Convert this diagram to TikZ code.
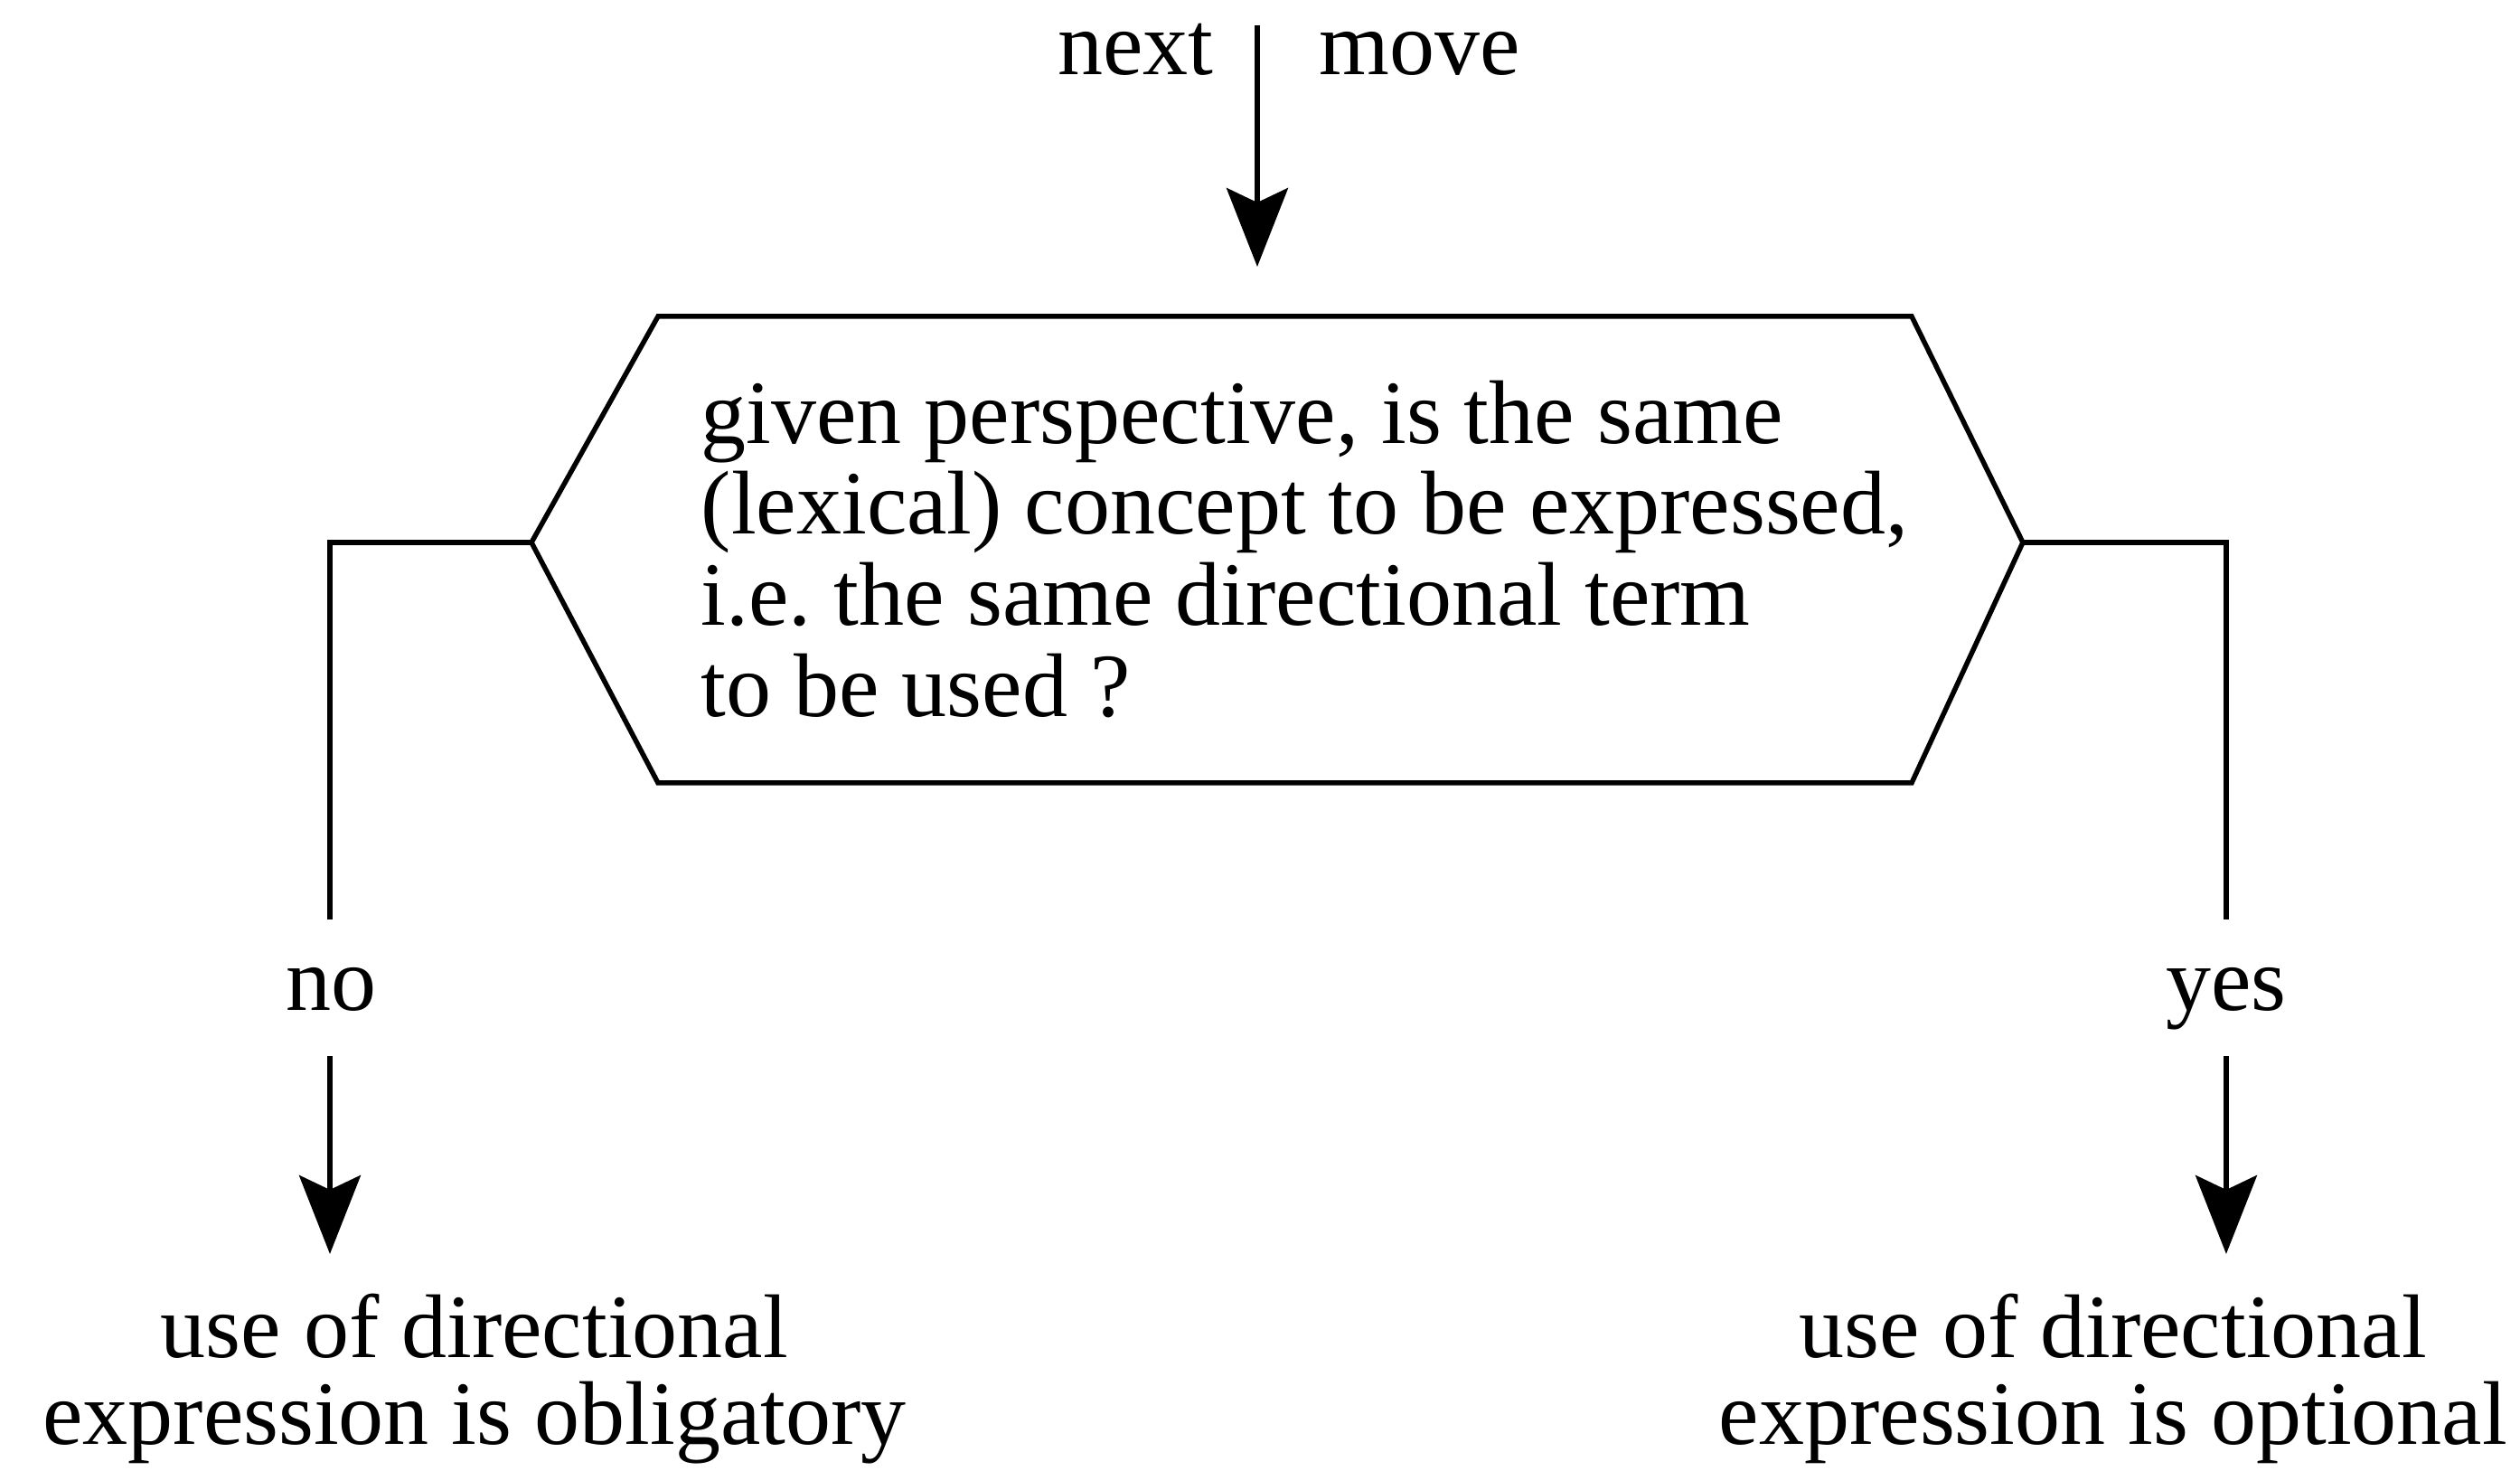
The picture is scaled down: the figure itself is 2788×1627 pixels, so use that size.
\documentclass[tikz,border=0pt]{standalone}
\usepackage{fontspec}
\setmainfont{Liberation Serif}
\usetikzlibrary{arrows.meta}
\begin{document}
\begin{tikzpicture}[x=0.1pt, y=-0.1pt, line width=0.55pt,
  flow/.style={-{Stealth[length=8.7pt,width=6.8pt,inset=1.6pt]}},
  lbl/.style={inner sep=0pt, font=\fontsize{10}{10.1}\selectfont},
  outcome/.style={lbl, align=center, font=\fontsize{10}{9.6}\selectfont}]
\useasboundingbox (0,0) rectangle (2788,1627);

% decision hexagon
\coordinate (L)  at (588,600);
\coordinate (TL) at (728,350);
\coordinate (TR) at (2115,350);
\coordinate (R)  at (2238,600);
\coordinate (BR) at (2115,866);
\coordinate (BL) at (728,866);
\draw (L) -- (TL) -- (TR) -- (R) -- (BR) -- (BL) -- cycle;
% base anchor of a multi-line node sits on its last line
\node[lbl, align=left, anchor=base west] (q) at (773,793)
  {given perspective, is the same\\(lexical) concept to be expressed,\\i.e.\ the same directional term\\to be used ?};

% incoming move
\coordinate (inTop) at (1391,28);
\coordinate (inTip) at (1391,295);
\draw[flow] (inTop) -- (inTip);
\node[lbl, anchor=base east] (next) at (1345,83) {next};
\node[lbl, anchor=base west] (move) at (1457,83) {move};

% "no" branch
\coordinate (noTop) at (365,1017);
\draw (L) -| (noTop);
\node[lbl, anchor=base] (no) at (367,1118) {no};
\coordinate (noA) at (365,1168);
\coordinate (noB) at (365,1387);
\draw[flow] (noA) -- (noB);
\node[outcome, anchor=base] (oblig) at (525,1598)
  {use of directional\\expression is obligatory};

% "yes" branch
\coordinate (yesTop) at (2463,1017);
\draw (R) -| (yesTop);
\node[lbl, anchor=base] (yes) at (2463,1118) {yes};
\coordinate (yesA) at (2463,1168);
\coordinate (yesB) at (2463,1387);
\draw[flow] (yesA) -- (yesB);
\node[outcome, anchor=base] (opt) at (2338,1598)
  {use of directional\\expression is optional};
\end{tikzpicture}
\end{document}
